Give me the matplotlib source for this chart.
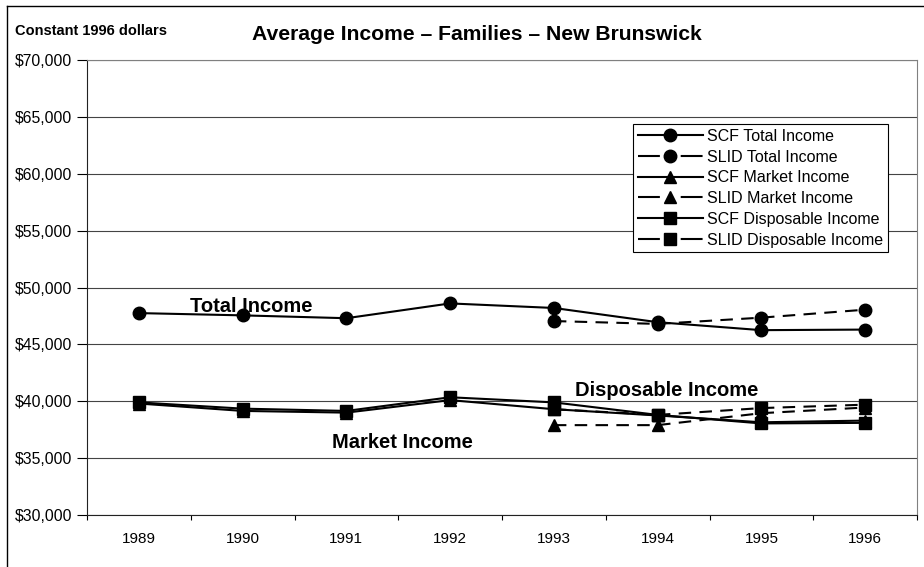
import matplotlib
matplotlib.use('Agg')
import matplotlib.pyplot as plt
from matplotlib.lines import Line2D
from matplotlib.ticker import FuncFormatter

plt.rcParams['font.family'] = ['Liberation Sans', 'DejaVu Sans']

years = ['1989', '1990', '1991', '1992', '1993', '1994', '1995', '1996']
slid_years = ['1993', '1994', '1995', '1996']

scf_total = [47750, 47550, 47300, 48600, 48200, 46950, 46250, 46300]
slid_total = [47050, 46800, 47350, 48050]
scf_market = [39800, 39150, 39000, 40100, 39300, 38750, 38150, 38300]
slid_market = [37900, 37900, 38950, 39450]
scf_disp = [39900, 39350, 39150, 40350, 39900, 38800, 38050, 38100]
slid_disp = [39300, 38800, 39400, 39700]

x = list(range(len(years)))
xs = [years.index(y) for y in slid_years]

fig = plt.figure(figsize=(9.24, 5.67), dpi=100)
ax = fig.add_axes([87 / 924, 1 - 515 / 567, 830 / 924, 455 / 567])

lw = 1.5
dash = (6, 4)
series = [
    (x, scf_total, 'o', 9, '-', 'SCF Total Income'),
    (xs, slid_total, 'o', 9, '--', 'SLID Total Income'),
    (x, scf_market, '^', 8.5, '-', 'SCF Market Income'),
    (xs, slid_market, '^', 8.5, '--', 'SLID Market Income'),
    (x, scf_disp, 's', 8, '-', 'SCF Disposable Income'),
    (xs, slid_disp, 's', 8, '--', 'SLID Disposable Income'),
]
for xv, yv, mk, ms, ls, lab in series:
    line, = ax.plot(xv, yv, color='black', marker=mk, markersize=ms, lw=lw,
                    linestyle=ls, label=lab, clip_on=False)
    if ls == '--':
        line.set_dashes(dash)

ax.set_xlim(-0.5, len(years) - 0.5)
ax.set_ylim(30000, 70000)
ax.set_yticks(range(30000, 70001, 5000))
ax.yaxis.set_major_formatter(FuncFormatter(lambda v, p: '${:,.0f}'.format(v)))
ax.set_xticks(x)
ax.set_xticklabels(years)
ax.set_xticks([i - 0.5 for i in range(len(years) + 1)], minor=True)
ax.tick_params(axis='x', which='major', length=0, pad=12, labelsize=11)
ax.tick_params(axis='x', which='minor', length=3.5, width=0.8, direction='out')
ax.tick_params(axis='y', length=7.5, width=0.8, direction='out', pad=3, labelsize=11.3)
ax.grid(axis='y', color='#444444', lw=0.8)
ax.set_axisbelow(True)
for side in ['top', 'right']:
    ax.spines[side].set_color('#808080')
for side in ['left', 'bottom']:
    ax.spines[side].set_color('#222222')

leg = ax.legend(loc='upper right', bbox_to_anchor=((888 - 87) / 830, 1 - (124 - 60) / 455),
                fontsize=11.5, frameon=True, fancybox=False, edgecolor='black',
                framealpha=1, handlelength=4.1, handletextpad=0.25,
                labelspacing=0.36, borderpad=0.3, borderaxespad=0)
leg.get_frame().set_linewidth(0.8)
# dash - marker - dash look for the dashed legend keys
for hl in leg.get_lines():
    if hl.get_linestyle() == '--':
        hl.set_dashes((10.5, 10))

ax.text(1.08, 47850, 'Total Income', fontsize=14.5, fontweight='bold',
        ha='center', va='baseline')
ax.text(5.09, 40460, 'Disposable Income', fontsize=14.5, fontweight='bold',
        ha='center', va='baseline')
ax.text(2.545, 35890, 'Market Income', fontsize=14.5, fontweight='bold',
        ha='center', va='baseline')

fig.text(477 / 924, 1 - 35 / 567, 'Average Income \u2013 Families \u2013 New Brunswick',
         fontsize=15.2, fontweight='bold', ha='center', va='center')
fig.text(15 / 924, 1 - 31 / 567, 'Constant 1996 dollars', fontsize=10.5,
         fontweight='bold', ha='left', va='center')

# outer chart frame (only top and left edges visible in the crop)
fig.add_artist(Line2D([7 / 924, 7 / 924], [0, 1 - 6 / 567], color='black', lw=1,
                      transform=fig.transFigure))
fig.add_artist(Line2D([7 / 924, 1], [1 - 6 / 567, 1 - 6 / 567], color='black', lw=1,
                      transform=fig.transFigure))

fig.savefig('out.png', dpi=100, facecolor='white')
